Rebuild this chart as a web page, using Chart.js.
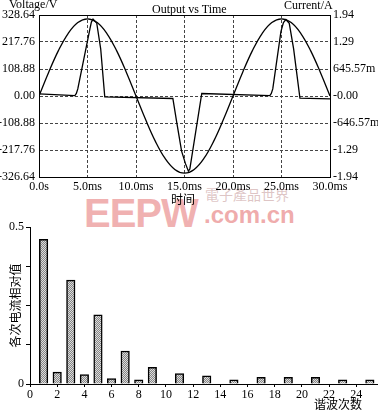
<!DOCTYPE html>
<html lang="zh">
<head>
<meta charset="UTF-8">
<title>Output vs Time / 谐波</title>
<script src="https://cdn.jsdelivr.net/npm/chart.js"></script>
<style>
  body { margin: 0; background: #fff; width: 378px; height: 410px; overflow: hidden; position: relative; }
  .txt { position: absolute; font-family: "Liberation Serif", serif; font-size: 12px; line-height: 1; color: #000; white-space: nowrap; }
  .cjk { font-family: "Noto Sans CJK SC", sans-serif; }
  .wm { position: absolute; white-space: nowrap; line-height: 1; }
  canvas { position: absolute; left: 0; }
  #topChart { top: 0; }
  #barChart { top: 215px; }
</style>
</head>
<body>

<div class="wm" style="left:84px;top:191px;font:bold 40px 'Liberation Sans',sans-serif;color:rgba(226,100,100,0.5);letter-spacing:-1px;">EEPW</div>
<div class="wm" style="left:205px;top:184px;font:14px 'Noto Sans CJK TC',sans-serif;color:rgba(190,140,140,0.5);">電子產品世界</div>
<div class="wm" style="left:204px;top:201px;font:bold 24px 'Liberation Sans',sans-serif;color:rgba(226,100,100,0.55);">.com.cn</div>

<canvas id="topChart" width="378" height="200"></canvas>
<canvas id="barChart" width="378" height="195"></canvas>

<div class="txt" style="left:9px;top:-2px;">Voltage/V</div>
<div class="txt" style="left:152px;top:3px;">Output vs Time</div>
<div class="txt" style="left:284px;top:-1px;">Current/A</div>
<div class="txt cjk" style="left:171px;top:193px;">时间</div>
<div class="txt cjk" style="left:314px;top:398px;">谐波次数</div>

<script>
// ---- top chart data (ms, V, A) ----
const timeV = [0, 1, 2, 3, 4, 5, 6, 7, 8, 9, 10, 11, 12, 13, 14, 15, 16, 17, 18, 19, 20,
               21, 22, 23, 24, 25, 26, 27, 28, 29, 30];
const voltV = [0, 96, 183, 252, 296, 311, 296, 252, 183, 96, 0, -96, -183, -252, -296, -311,
               -296, -252, -183, -96, 0, 96, 183, 252, 296, 311, 296, 252, 183, 96, 0];

const timeI = [0, 3.7, 3.85, 4.0, 5.26, 5.4, 5.57, 5.95, 6.36, 6.78,
               13.8, 14.2, 14.7, 15.1, 15.4, 15.55, 16.78,
               23.8, 23.95, 24.1, 24.94, 25.2, 25.45, 25.8, 26.25, 26.9, 30];
const curI  = [0.05, 0.01, 0.06, 0.17, 1.62, 1.77, 1.84, 1.75, 1.13, -0.02,
               -0.06, -0.63, -1.32, -1.62, -1.80, -1.75, 0.06,
               0.01, 0.06, 0.17, 1.54, 1.76, 1.83, 1.74, 1.13, -0.05, -0.07];

const timeTicks = [0, 5, 10, 15, 20, 25, 30];
const timeLabels = ['0.0s', '5.0ms', '10.0ms', '15.0ms', '20.0ms', '25.0ms', '30.0ms'];
const voltTicks = [-326.64, -217.76, -108.88, 0, 108.88, 217.76, 326.64];
const voltLabels = ['-326.64', '-217.76', '-108.88', '0.00', '108.88', '217.76', '328.64'];
const curTicks = [-1.94, -1.29, -0.64657, 0, 0.64557, 1.29, 1.94];
const curLabels = ['-1.94', '-1.29', '-646.57m', '-0.00', '645.57m', '1.29', '1.94'];

// ---- harmonic data ----
const orders = [1, 2, 3, 4, 5, 6, 7, 8, 9, 11, 13, 15, 17, 19, 21, 23, 25];
const relValues = [0.461, 0.038, 0.331, 0.030, 0.220, 0.017, 0.105, 0.013, 0.053, 0.033,
                   0.026, 0.013, 0.021, 0.021, 0.021, 0.013, 0.013];
const orderTicks = [0, 2, 4, 6, 8, 10, 12, 14, 16, 18, 20, 22, 24];
const relTicks = [0, 0.125, 0.25, 0.375, 0.5];
const relLabels = ['0', '', '', '', '0.5'];

const serif = { family: "'Liberation Serif', serif", size: 12 };

const framePlugin = {
    id: 'frame',
    afterDatasetsDraw(chart) {
        const a = chart.chartArea, ctx = chart.ctx;
        ctx.save();
        ctx.setLineDash([]);
        ctx.strokeStyle = '#000';
        ctx.lineWidth = 1;
        ctx.strokeRect(Math.round(a.left) + 0.5, Math.round(a.top) + 0.5,
                       Math.round(a.right - a.left), Math.round(a.bottom - a.top));
        ctx.restore();
    }
};

new Chart(document.getElementById('topChart'), {
    type: 'line',
    data: {
        datasets: [{
            data: timeV.map((t, i) => ({ x: t, y: voltV[i] })),
            yAxisID: 'y',
            borderColor: '#000',
            borderWidth: 1.3,
            pointRadius: 0,
            tension: 0.4
        }, {
            data: timeI.map((t, i) => ({ x: t, y: curI[i] })),
            yAxisID: 'y1',
            borderColor: '#000',
            borderWidth: 1.3,
            pointRadius: 0,
            tension: 0
        }]
    },
    options: {
        responsive: false,
        animation: false,
        layout: { padding: { top: 15, left: 0, right: 0, bottom: 0 } },
        plugins: { legend: { display: false }, tooltip: { enabled: false } },
        scales: {
            x: {
                type: 'linear', min: 0, max: 30,
                afterBuildTicks: s => { s.ticks = timeTicks.map(v => ({ value: v })); },
                afterFit: s => { s.height = 23; },
                ticks: { font: serif, color: '#000', padding: 3, maxRotation: 0,
                         callback: (v, i) => timeLabels[i] },
                grid: { color: '#444', drawTicks: false },
                border: { color: '#000', dash: [3, 2] }
            },
            y: {
                position: 'left', min: -326.64, max: 326.64,
                afterBuildTicks: s => { s.ticks = voltTicks.map(v => ({ value: v })); },
                afterFit: s => { s.width = 39; },
                ticks: { font: serif, color: '#000', padding: 4,
                         callback: (v, i) => voltLabels[i] },
                grid: { color: '#444', drawTicks: false },
                border: { color: '#000', dash: [3, 2] }
            },
            y1: {
                position: 'right', min: -1.94, max: 1.94,
                afterBuildTicks: s => { s.ticks = curTicks.map(v => ({ value: v })); },
                afterFit: s => { s.width = 48; },
                ticks: { font: serif, color: '#000', padding: 3,
                         callback: (v, i) => curLabels[i] },
                grid: { drawOnChartArea: false, drawTicks: false },
                border: { color: '#000' }
            }
        }
    },
    plugins: [framePlugin]
});

// stipple fill for the bars
const pc = document.createElement('canvas');
pc.width = 2; pc.height = 2;
const pctx = pc.getContext('2d');
pctx.fillStyle = '#dcdcdc'; pctx.fillRect(0, 0, 2, 2);
pctx.fillStyle = '#858585'; pctx.fillRect(0, 0, 1, 1); pctx.fillRect(1, 1, 1, 1);
const barCtx = document.getElementById('barChart').getContext('2d');
const stipple = barCtx.createPattern(pc, 'repeat');

new Chart(barCtx, {
    type: 'bar',
    data: {
        datasets: [{
            data: orders.map((o, i) => ({ x: o, y: relValues[i] })),
            backgroundColor: stipple,
            borderColor: '#000',
            borderWidth: 1.5,
            borderSkipped: 'start',
            barThickness: 8.5
        }]
    },
    options: {
        responsive: false,
        animation: false,
        layout: { padding: { top: 12, left: 0, right: 0, bottom: 0 } },
        plugins: { legend: { display: false }, tooltip: { enabled: false } },
        scales: {
            x: {
                type: 'linear', min: 0, max: 25.6, offset: false,
                afterBuildTicks: s => { s.ticks = orderTicks.map(v => ({ value: v })); },
                afterFit: s => { s.height = 26; },
                ticks: { font: serif, color: '#000', padding: 1, maxRotation: 0 },
                grid: { offset: false, drawOnChartArea: false, tickLength: 3, tickColor: '#000' },
                border: { color: '#000', width: 1 }
            },
            y: {
                min: 0, max: 0.5,
                afterBuildTicks: s => { s.ticks = relTicks.map(v => ({ value: v })); },
                afterFit: s => { s.width = 30; },
                ticks: { font: serif, color: '#000', padding: 2,
                         callback: (v, i) => relLabels[i] },
                grid: { drawOnChartArea: false, tickLength: 4, tickColor: '#000' },
                border: { color: '#000', width: 1 },
                title: { display: true, text: '各次电流相对值', color: '#000',
                         font: { family: "'Noto Sans CJK SC', sans-serif", size: 12 },
                         padding: { top: 8, bottom: 0 } }
            }
        }
    }
});
</script>
</body>
</html>
